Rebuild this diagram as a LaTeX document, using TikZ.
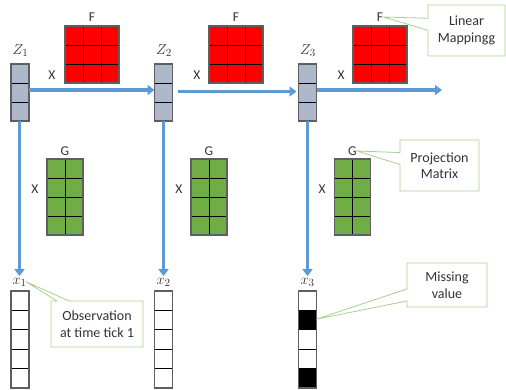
\documentclass[tikz,border=0pt]{standalone}
\usepackage{fontspec}
\setmainfont{Carlito}
\usetikzlibrary{arrows.meta,calc,shapes.callouts}
\definecolor{FlowBlue}{HTML}{5B9BD5}
\definecolor{ZFill}{HTML}{ADB9CA}
\definecolor{FRed}{HTML}{FF0000}
\definecolor{GGreen}{HTML}{70AD47}
\definecolor{NoteLine}{HTML}{A9D18E}
\definecolor{CellEdge}{HTML}{5F5F5F}
\definecolor{LabelInk}{HTML}{333333}

\tikzset{
  cell/.style={draw=CellEdge,line width=1.3pt,inner sep=0pt,outer sep=0pt},
  zcol/.style={cell,fill=ZFill,minimum width=18pt,minimum height=57pt},
  xcol/.style={cell,fill=white,minimum width=18pt,minimum height=97pt},
  fmat/.style={cell,fill=FRed,minimum width=54pt,minimum height=57pt},
  gmat/.style={cell,fill=GGreen,minimum width=36pt,minimum height=76pt},
  inner/.style={draw=black,line width=0.9pt},
  lab/.style={text=LabelInk,font=\fontsize{13.5}{15}\selectfont,inner sep=1pt},
  mlab/.style={text=LabelInk,font=\fontsize{15}{17}\selectfont,inner sep=1pt},
  flow/.style={draw=FlowBlue,line width=3.5pt,-{Triangle[length=7pt,width=10pt]}},
  note/.style={rectangle callout,draw=NoteLine,line width=0.8pt,fill=white,align=center,
    text=LabelInk,font=\fontsize{14}{16.5}\selectfont,callout pointer width=12pt,inner sep=0pt}
}
% inner lines of a grid node: #1 node, #2 rows / columns
\newcommand{\rowlines}[2]{\pgfmathtruncatemacro{\lastk}{#2-1}%
  \foreach \k in {1,...,\lastk}{\draw[inner] ($(#1.north west)!\k/#2!(#1.south west)$) -- ($(#1.north east)!\k/#2!(#1.south east)$);}}
\newcommand{\collines}[2]{\pgfmathtruncatemacro{\lastk}{#2-1}%
  \foreach \k in {1,...,\lastk}{\draw[inner] ($(#1.north west)!\k/#2!(#1.north east)$) -- ($(#1.south west)!\k/#2!(#1.south east)$);}}

\begin{document}
\begin{tikzpicture}[x=1pt,y=-1pt]
\path[use as bounding box] (0,0) rectangle (506,390);

% latent states
\node[zcol] (z1) at (20,92.5) {};
\node[zcol] (z2) at (163.5,92.5) {};
\node[zcol] (z3) at (307.5,92.5) {};
\node[mlab] (lz1) at (20.5,51) {$Z_1$};
\node[mlab] (lz2) at (164,51) {$Z_2$};
\node[mlab] (lz3) at (308,51) {$Z_3$};

% transition matrices
\node[fmat] (f1) at (92,54.5) {};
\node[fmat] (f2) at (236,54.5) {};
\node[fmat] (f3) at (380,54.5) {};
\node[lab] (lf1) at (92,17) {F};
\node[lab] (lf2) at (236,17) {F};
\node[lab] (lf3) at (380,17) {F};
\node[lab] (xf1) at (52,75) {X};
\node[lab] (xf2) at (197,75) {X};
\node[lab] (xf3) at (341,75) {X};

% projection matrices
\node[gmat] (g1) at (65,197) {};
\node[gmat] (g2) at (209,197) {};
\node[gmat] (g3) at (352.5,197) {};
\node[lab] (lg1) at (65,151) {G};
\node[lab] (lg2) at (209,151) {G};
\node[lab] (lg3) at (352.5,151) {G};
\node[lab] (xg1) at (35,189) {X};
\node[lab] (xg2) at (179,189) {X};
\node[lab] (xg3) at (322,189) {X};

% observations
\node[xcol] (x1) at (20,339.5) {};
\node[xcol] (x2) at (163.5,339.5) {};
\node[xcol] (x3) at (307.5,339.5) {};
\node[mlab] (lx1) at (19.5,282.5) {$x_1$};
\node[mlab] (lx2) at (163.5,282.5) {$x_2$};
\node[mlab] (lx3) at (307.5,282.5) {$x_3$};
\fill[black] ($(x3.north west)!1/5!(x3.south west)$) rectangle ($(x3.north east)!2/5!(x3.south east)$);
\fill[black] ($(x3.north west)!4/5!(x3.south west)$) rectangle (x3.south east);

\foreach \n in {z1,z2,z3}{\rowlines{\n}{3}}
\foreach \n in {x1,x2,x3}{\rowlines{\n}{5}}
\foreach \n in {f1,f2,f3}{\rowlines{\n}{3}\collines{\n}{3}}
\foreach \n in {g1,g2,g3}{\rowlines{\n}{4}\collines{\n}{2}}
\foreach \n in {z1,z2,z3,x1,x2,x3,f1,f2,f3,g1,g2,g3}{\draw[cell] (\n.north west) rectangle (\n.south east);}

% state flow
\coordinate (zout) at (442,90);
\draw[flow] ([yshift=2.5pt]z1.east) -- ([yshift=2.5pt]z2.west);
\draw[flow] ([xshift=5pt,yshift=1pt]z2.east) -- ([xshift=-2pt,yshift=1pt]z3.west);
\draw[flow] ([yshift=2.5pt]z3.east) -- (zout);
\draw[flow] ([xshift=-0.5pt]z1.south) -- ([yshift=1pt]lx1.north);
\draw[flow] (z2.south) -- ([yshift=1pt]lx2.north);
\draw[flow] (z3.south) -- ([yshift=1pt]lx3.north);

% notes
\coordinate (miss) at ($(x3.north east)!1.45/5!(x3.south east)$);
\node[note,minimum width=77pt,minimum height=51pt,callout absolute pointer={([xshift=-1pt]lf3.east)}] (nmap) at (466.5,30.5) {Linear\\Mappingg};
\node[note,minimum width=79pt,minimum height=51pt,callout absolute pointer={([xshift=-1pt]lg3.east)}] (nproj) at (439.5,165.5) {Projection\\Matrix};
\node[note,minimum width=92pt,minimum height=46pt,callout absolute pointer={([xshift=-2pt,yshift=1pt]lx1.east)}] (nobs) at (97,324) {Observation\\at time tick 1};
\node[note,minimum width=80pt,minimum height=44pt,callout absolute pointer={(miss)}] (nmiss) at (447,285) {Missing\\value};
\end{tikzpicture}
\end{document}
